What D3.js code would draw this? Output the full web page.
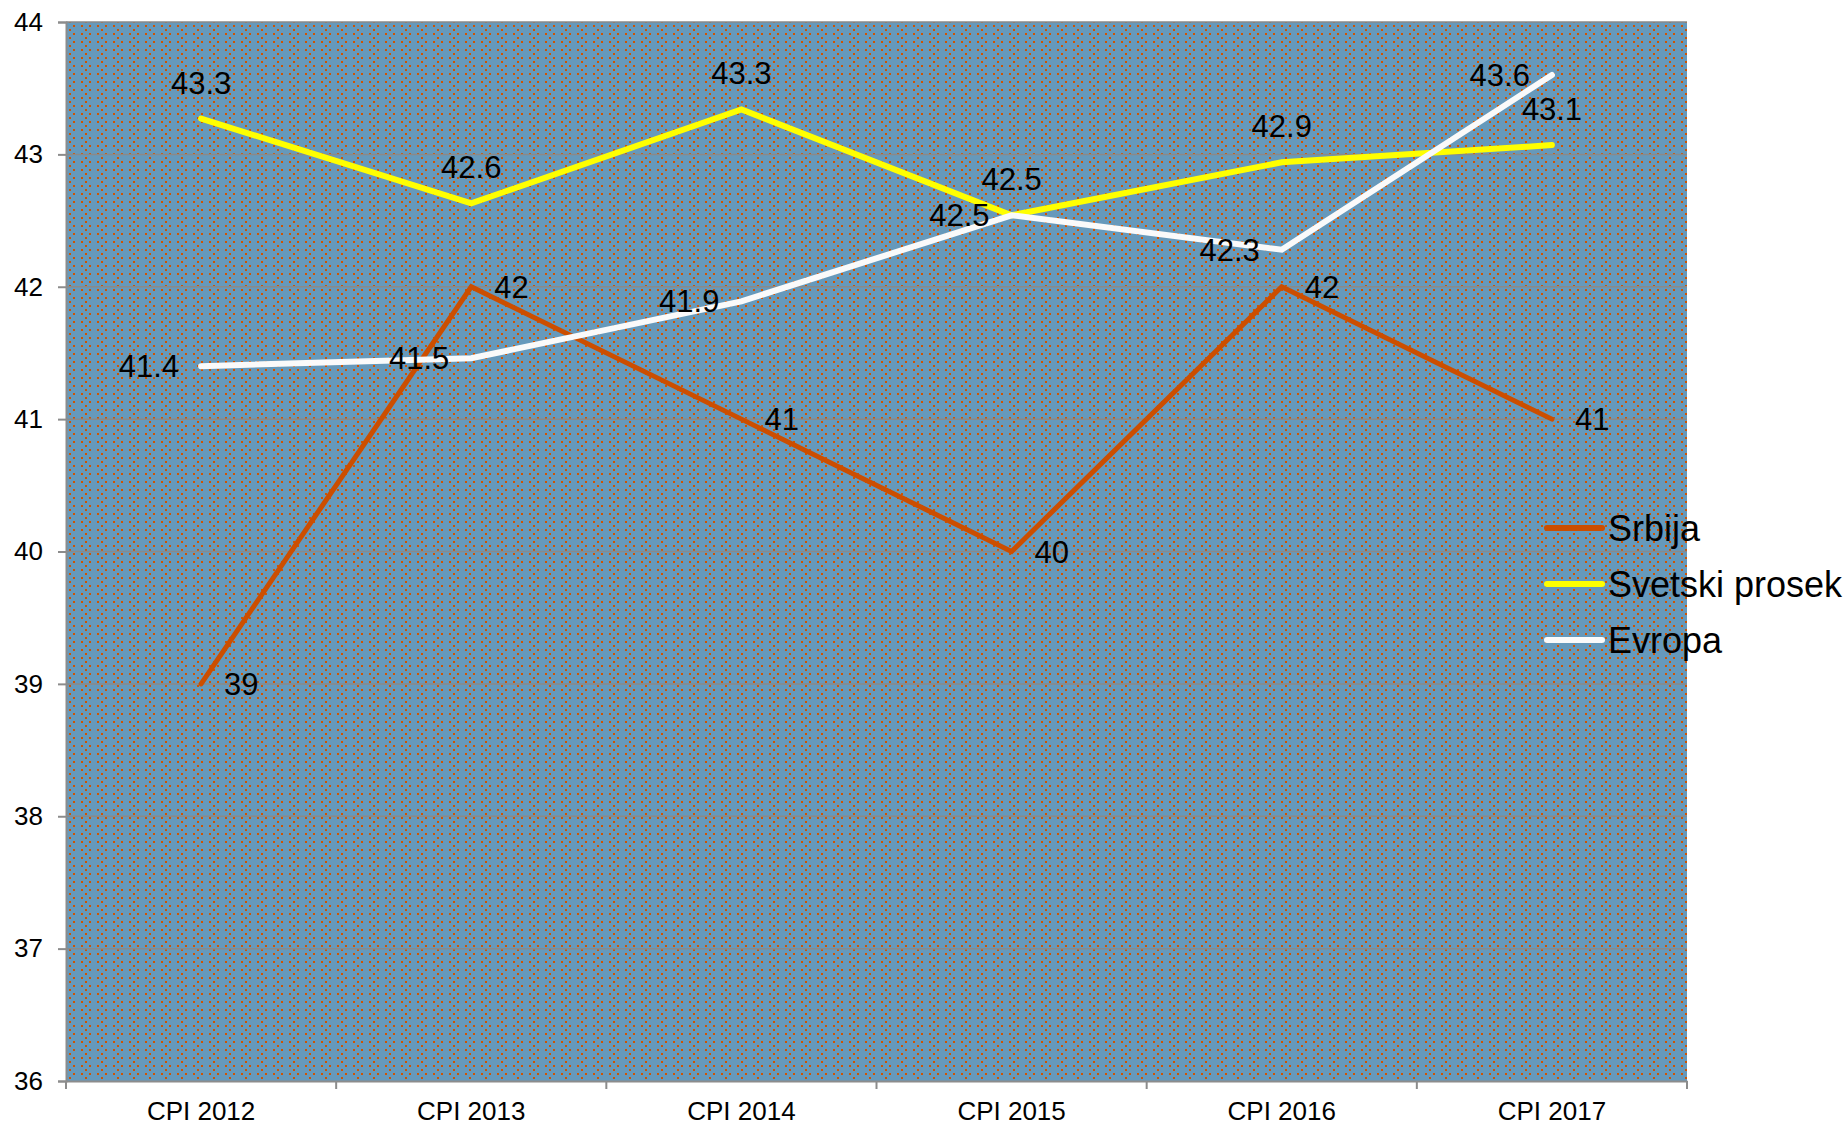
<!DOCTYPE html>
<html>
<head>
<meta charset="utf-8">
<script src="https://cdn.jsdelivr.net/npm/d3@7"></script>
<style>
  body { margin: 0; background: #fff; }
  text { font-family: "Liberation Sans", Arial, sans-serif; fill: #000; }
</style>
</head>
<body>
<script>
var categories = ['CPI 2012', 'CPI 2013', 'CPI 2014', 'CPI 2015', 'CPI 2016', 'CPI 2017'];
var srbija = [39, 42, 41, 40, 42, 41];
var svetski = [43.27, 42.63, 43.34, 42.54, 42.94, 43.07];
var evropa = [41.40, 41.46, 41.89, 42.54, 42.28, 43.60];
var yTicks = [36, 37, 38, 39, 40, 41, 42, 43, 44];

var series = [
  { name: 'Srbija', values: srbija, color: '#cc4e00', width: 5, label: 'right' },
  { name: 'Svetski prosek', values: svetski, color: '#ffff00', width: 6, label: 'above' },
  { name: 'Evropa', values: evropa, color: '#fafafa', width: 6, label: 'left' }
];

var W = 1846, H = 1125;
var margin = { top: 22, right: 159, bottom: 44, left: 66 };

var svg = d3.select('body').append('svg')
    .attr('width', W)
    .attr('height', H);

// dotted background fill
var defs = svg.append('defs');
var pat = defs.append('pattern')
    .attr('id', 'dots')
    .attr('patternUnits', 'userSpaceOnUse')
    .attr('width', 16).attr('height', 8);
pat.append('rect').attr('width', 16).attr('height', 8).attr('fill', '#6699bb');
[[1, 1], [9, 1], [5, 5]].forEach(function(p) {
  pat.append('rect').attr('x', p[0]).attr('y', p[1])
     .attr('width', 2).attr('height', 2).attr('fill', '#d05400');
});

var x = d3.scaleBand()
    .domain(categories)
    .range([margin.left, W - margin.right]);

var y = d3.scaleLinear()
    .domain([36, 44])
    .range([H - margin.bottom, margin.top]);

var cx = function(i) { return x(categories[i]) + x.bandwidth() / 2; };

svg.append('rect')
    .attr('x', margin.left).attr('y', margin.top)
    .attr('width', W - margin.right - margin.left)
    .attr('height', H - margin.bottom - margin.top)
    .attr('fill', 'url(#dots)');

// gridlines
svg.append('g')
    .selectAll('line')
    .data(yTicks.slice(1))
    .enter().append('line')
    .attr('x1', margin.left).attr('x2', W - margin.right)
    .attr('y1', function(d) { return y(d); })
    .attr('y2', function(d) { return y(d); })
    .attr('stroke', '#8a8a8a')
    .attr('stroke-width', 1.5);

// y axis
var yAxis = svg.append('g')
    .attr('transform', 'translate(' + margin.left + ',0)')
    .call(d3.axisLeft(y).tickValues(yTicks).tickSize(8).tickPadding(15).tickFormat(d3.format('d')));
yAxis.selectAll('text').style('font-size', '26px');

// x axis
var xAxis = svg.append('g')
    .attr('transform', 'translate(0,' + (H - margin.bottom) + ')')
    .call(d3.axisBottom(x).tickSize(0).tickPadding(21));
xAxis.selectAll('text').style('font-size', '26px');
var bounds = categories.map(function(c) { return x(c); }).concat([W - margin.right]);
xAxis.selectAll('.bound')
    .data(bounds)
    .enter().append('line')
    .attr('x1', function(d) { return d; }).attr('x2', function(d) { return d; })
    .attr('y1', 0).attr('y2', 8)
    .attr('stroke', '#8c8c8c').attr('stroke-width', 2);

svg.selectAll('.domain').attr('stroke', '#8c8c8c').attr('stroke-width', 2);
yAxis.selectAll('.tick line').attr('stroke', '#8c8c8c').attr('stroke-width', 2);

// lines
var line = d3.line()
    .x(function(d, i) { return cx(i); })
    .y(function(d) { return y(d); });

series.forEach(function(s) {
  svg.append('path')
      .datum(s.values)
      .attr('d', line)
      .attr('fill', 'none')
      .attr('stroke', s.color)
      .attr('stroke-width', s.width)
      .attr('stroke-linecap', 'round')
      .attr('stroke-linejoin', 'miter');
});

// data labels
var fmt1 = d3.format('.1f');
series.forEach(function(s) {
  svg.append('g').selectAll('text')
      .data(s.values)
      .enter().append('text')
      .style('font-size', '31px')
      .attr('x', function(d, i) {
        if (s.label == 'right') return cx(i) + 23;
        if (s.label == 'left') return cx(i) - 22;
        return cx(i);
      })
      .attr('y', function(d) {
        if (s.label == 'above') return y(d) - 25;
        return y(d);
      })
      .attr('dy', s.label == 'above' ? '0' : '0.36em')
      .attr('text-anchor', s.label == 'right' ? 'start' : (s.label == 'left' ? 'end' : 'middle'))
      .text(function(d) { return s.label == 'right' ? d3.format('d')(d) : fmt1(d); });
});

// legend
var legend = svg.append('g').attr('transform', 'translate(1547,528)');
var item = legend.selectAll('g')
    .data(series)
    .enter().append('g')
    .attr('transform', function(d, i) { return 'translate(0,' + (i * 56) + ')'; });
item.append('line')
    .attr('x1', 0).attr('x2', 55)
    .attr('stroke', function(d) { return d.color; })
    .attr('stroke-width', 6)
    .attr('stroke-linecap', 'round');
item.append('text')
    .attr('x', 61)
    .attr('dy', '0.36em')
    .style('font-size', '36px')
    .text(function(d) { return d.name; });
</script>
</body>
</html>
